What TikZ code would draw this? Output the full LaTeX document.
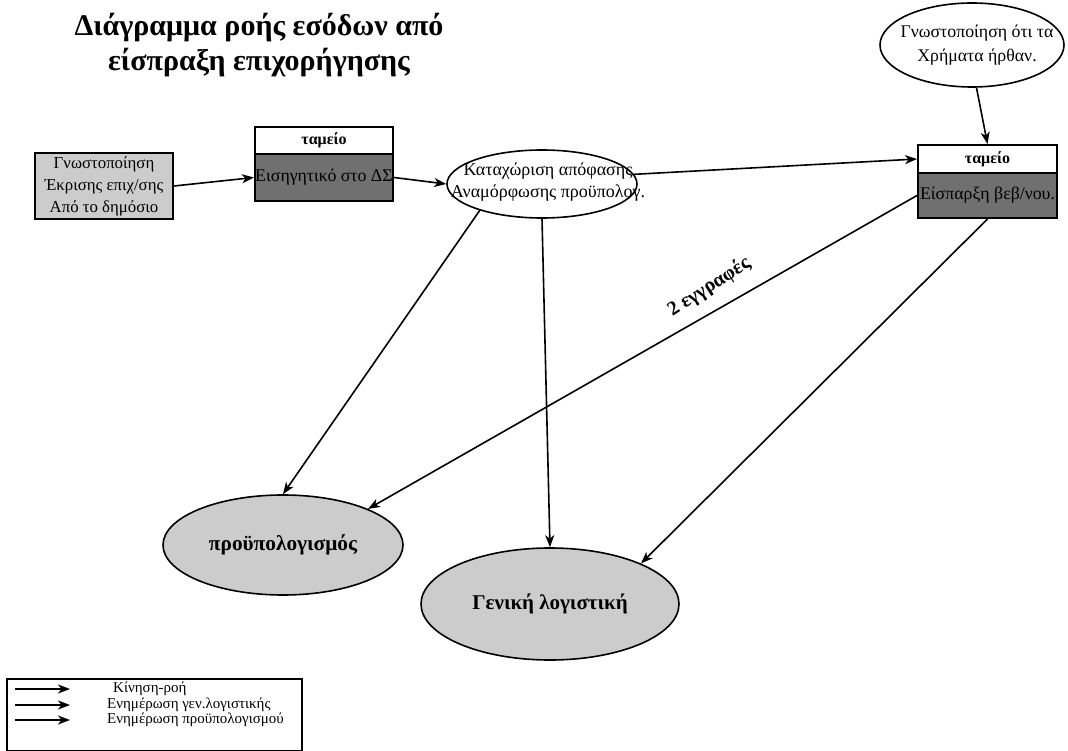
\documentclass[tikz,border=0pt]{standalone}
\usepackage{fontspec}
\setmainfont{Liberation Serif}
\usetikzlibrary{shapes.geometric,arrows.meta}
\definecolor{lgray}{RGB}{204,204,204}
\definecolor{dgray}{RGB}{112,112,112}
\tikzset{
  flow/.style={line width=1.6pt,-{Stealth[length=12pt,width=9pt,inset=3.5pt]}},
  boxhead/.style={draw,line width=2pt,fill=white,inner sep=0pt,font=\fontsize{16}{18}\selectfont\bfseries},
  boxbody/.style={draw,line width=2pt,fill=dgray,inner sep=0pt,font=\fontsize{17.8}{20}\selectfont},
  ell/.style={draw,ellipse,line width=1.6pt,inner sep=0pt},
  txt/.style={inner sep=0pt,align=center,font=\fontsize{18}{22}\selectfont},
  legtxt/.style={inner sep=0pt,anchor=west,font=\fontsize{15}{16}\selectfont},
}
\begin{document}
\begin{tikzpicture}[x=1pt,y=-1pt]
\useasboundingbox (0,0) rectangle (1068,751);
% title
\node[inner sep=0pt,align=center,font=\fontsize{30}{35}\selectfont\bfseries] (title) at (259,45)
  {Διάγραμμα ροής εσόδων από\\είσπραξη επιχορήγησης};
% left box
\node[draw,line width=2pt,fill=lgray,minimum width=138pt,minimum height=66pt,inner sep=0pt,align=center,
  font=\fontsize{16.8}{22}\selectfont] (gn) at (104,186)
  {Γνωστοποίηση\\Έκρισης επιχ/σης\\Από το δημόσιο};
% box 2
\node[boxhead,minimum width=138pt,minimum height=27pt] (b2head) at (324,140.5) {ταμείο};
\node[boxbody,minimum width=138pt,minimum height=47pt] (b2body) at (324,177.5) {Εισηγητικό στο ΔΣ};
% Kataxorisi ellipse
\node[ell,fill=white,minimum width=190pt,minimum height=68pt] (kat) at (542,184) {};
\node[txt,font=\fontsize{18}{22}\selectfont] (katt) at (548,182) {Καταχώριση απόφασης\\Αναμόρφωσης προϋπολογ.};
% top right ellipse
\node[ell,fill=white,minimum width=184pt,minimum height=84pt] (notif) at (972,45) {};
\node[txt,font=\fontsize{17.8}{24}\selectfont] (notift) at (977,45) {Γνωστοποίηση ότι τα\\Χρήματα ήρθαν.};
% box 3
\node[boxhead,minimum width=139pt,minimum height=28pt] (b3head) at (987.5,159) {ταμείο};
\node[boxbody,minimum width=139pt,minimum height=45pt] (b3body) at (987.5,195.5) {Είσπαρξη βεβ/νου.};
% bottom ellipses
\node[ell,fill=lgray,minimum width=240pt,minimum height=100pt,font=\fontsize{21.3}{24}\selectfont\bfseries] (prou) at (283,545) {προϋπολογισμός};
\node[ell,fill=lgray,minimum width=258pt,minimum height=112pt,font=\fontsize{21}{24}\selectfont\bfseries] (gen) at (550,604) {Γενική λογιστική};
% arrows
\draw[flow] (gn.east) -- (b2body.west);
\draw[flow] (b2body.east) -- (kat.west);
\draw[flow] (kat.6) -- (b3head.west);
\draw[flow] (notif.-84) -- (b3head.north);
\draw[flow] (kat.203) -- (prou.north);
\draw[flow] (kat.south) -- (gen.north);
\draw[flow] (b3body.west) -- (prou.23);
\draw[flow] (b3body.south) -- (gen.24);
\node[inner sep=0pt,rotate=33,font=\fontsize{20}{22}\selectfont\bfseries] (lbl) at (709,287) {2 εγγραφές};
% legend
\node[draw,line width=1.5pt,minimum width=295pt,minimum height=72pt,inner sep=0pt] (leg) at (154.5,715) {};
\coordinate (l1a) at (15,689); \coordinate (l1b) at (70,689);
\coordinate (l2a) at (15,705); \coordinate (l2b) at (70,705);
\coordinate (l3a) at (15,720); \coordinate (l3b) at (70,720);
\draw[flow] (l1a) -- (l1b);
\draw[flow] (l2a) -- (l2b);
\draw[flow] (l3a) -- (l3b);
\node[legtxt] (t1) at (113,689) {Κίνηση-ροή};
\node[legtxt] (t2) at (107,705) {Ενημέρωση γεν.λογιστικής};
\node[legtxt] (t3) at (107,720) {Ενημέρωση προϋπολογισμού};
\end{tikzpicture}
\end{document}
